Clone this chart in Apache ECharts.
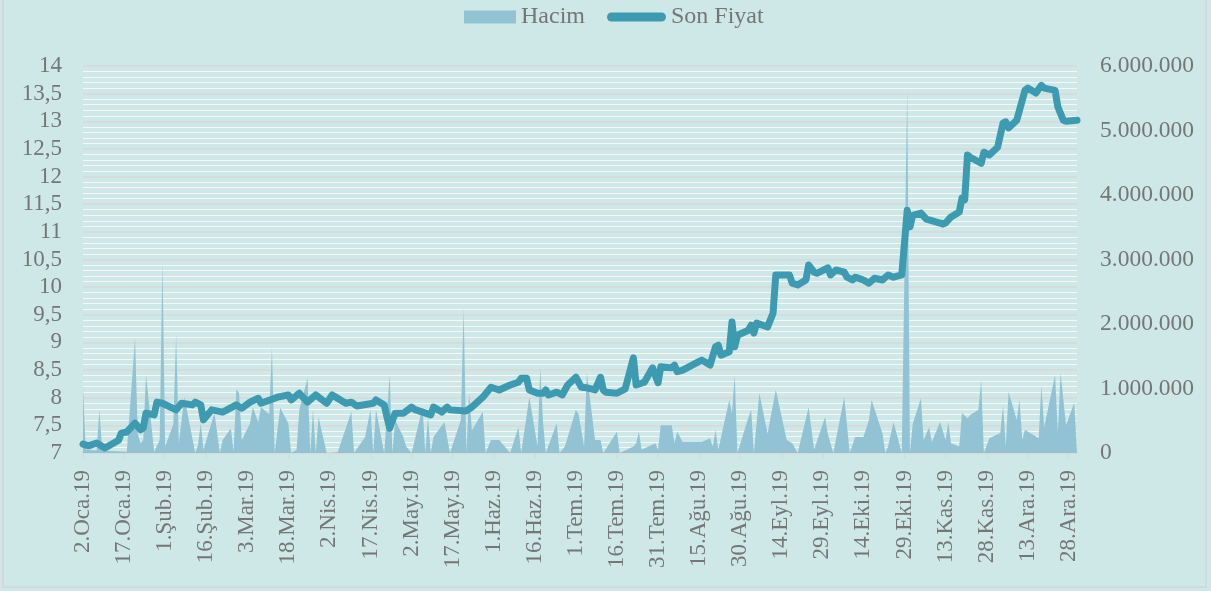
<!DOCTYPE html>
<html><head><meta charset="utf-8">
<script src="https://cdn.jsdelivr.net/npm/echarts@6/dist/echarts.min.js"></script>
<style>
html,body{margin:0;padding:0;background:#cde8e6;}
#frame{position:absolute;left:2px;top:-3px;width:1205px;height:591px;border:2px solid #d6d9d9;box-sizing:border-box;}
#c{position:absolute;left:0;top:0;width:1211px;height:591px;}
</style></head>
<body><div id="frame"></div><div id="c"></div>
<script>
// Turkish month abbreviations used in tick labels
const months = ['Oca','Şub','Mar','Nis','May','Haz','Tem','Ağu','Eyl','Eki','Kas','Ara'];

// Son Fiyat (closing price) – trading-day readings
const priceDates = ['01-02','01-04','01-07','01-10','01-15','01-16','01-18','01-21','01-23','01-24','01-25','01-28','01-29','01-31',
'02-05','02-07','02-11','02-12','02-14','02-15','02-18','02-22','02-27','03-01','03-04','03-07','03-08','03-14','03-18','03-19',
'03-22','03-25','03-28','04-01','04-03','04-08','04-10','04-12','04-18','04-19','04-22','04-23','04-24','04-26','04-29',
'05-02','05-03','05-06','05-09','05-10','05-13','05-15','05-16','05-22','05-24','05-28','05-31','06-03','06-07','06-10',
'06-11','06-13','06-14','06-17','06-19','06-20','06-21','06-24','06-26','06-28','07-01','07-02','07-03','07-05','07-08',
'07-10','07-11','07-12','07-16','07-19','07-22','07-23','07-26','07-29','07-31','08-01','08-05','08-06','08-07','08-09',
'08-14','08-16','08-19','08-21','08-22','08-23','08-26','08-27','08-28','08-29','09-02','09-03','09-04','09-05','09-09',
'09-11','09-12','09-16','09-17','09-18','09-20','09-23','09-24','09-26','09-27','10-01','10-02','10-04','10-07','10-08',
'10-10','10-11','10-14','10-16','10-18','10-21','10-23','10-25','10-28','10-30','10-31','11-01','11-04','11-06','11-11',
'11-12','11-13','11-15','11-18','11-19','11-20','11-21','11-22','11-26','11-27','11-29','12-02','12-04','12-05','12-06',
'12-09','12-10','12-12','12-13','12-16','12-18','12-19','12-23','12-24','12-26','12-27','12-31'];
const price = [7.16,7.13,7.18,7.09,7.23,7.36,7.38,7.54,7.42,7.45,7.72,7.69,7.92,7.90,
7.78,7.90,7.87,7.92,7.87,7.60,7.78,7.74,7.87,7.81,7.92,7.99,7.90,8.01,8.05,7.96,
8.08,7.92,8.05,7.90,8.05,7.90,7.92,7.85,7.90,7.96,7.87,7.65,7.45,7.72,7.72,
7.83,7.79,7.74,7.69,7.83,7.74,7.83,7.78,7.76,7.83,8.01,8.19,8.14,8.23,8.28,
8.35,8.35,8.14,8.08,8.08,8.14,8.05,8.10,8.05,8.23,8.37,8.28,8.19,8.18,8.14,
8.37,8.14,8.10,8.08,8.16,8.72,8.23,8.28,8.54,8.27,8.56,8.54,8.59,8.47,8.50,
8.63,8.68,8.59,8.92,8.95,8.77,8.83,9.37,8.92,9.13,9.22,9.31,9.17,9.35,9.28,
9.53,10.22,10.22,10.22,10.07,10.04,10.13,10.40,10.27,10.25,10.35,10.22,10.31,10.27,10.18,
10.13,10.18,10.13,10.07,10.16,10.13,10.22,10.18,10.22,11.39,11.09,11.30,11.34,11.23,11.16,
11.14,11.16,11.27,11.36,11.61,11.58,12.39,12.35,12.24,12.44,12.39,12.53,12.97,12.99,12.88,
13.02,13.20,13.56,13.60,13.51,13.65,13.60,13.56,13.26,13.02,13.00,13.02];

// Hacim (volume, in millions) – trading-day readings
const volumeDates = ['01-02','01-03','01-07','01-08','01-09','01-18','01-21','01-22','01-23','01-24','01-25','01-28','01-30','01-31',
'02-01','02-04','02-05','02-06','02-08','02-12','02-13','02-14','02-15','02-19','02-21','02-22','02-25','02-26','02-27','02-28',
'03-01','03-04','03-05','03-07','03-08','03-11','03-12','03-13','03-15','03-18','03-19','03-21','03-22','03-25','03-26',
'03-27','03-28','03-29','04-01','04-05','04-10','04-11','04-15','04-17','04-18','04-19','04-22','04-24','04-25','04-26',
'04-29','04-30','05-02','05-06','05-07','05-08','05-09','05-10','05-14','05-16','05-20','05-21','05-22','05-23','05-24',
'05-28','05-29','05-31','06-03','06-07','06-10','06-11','06-14','06-17','06-18','06-19','06-20','06-24','06-25','06-27',
'07-01','07-02','07-04','07-05','07-08','07-10','07-11','07-16','07-17','07-22','07-23','07-24','07-25','07-30','07-31',
'08-01','08-05','08-06','08-07','08-09','08-16','08-19','08-20','08-21','08-22','08-26','08-27','08-28','08-29','09-02',
'09-03','09-04','09-06','09-09','09-12','09-16','09-18','09-20','09-24','09-26','09-30','10-01','10-03','10-07','10-09',
'10-11','10-14','10-16','10-17','10-21','10-22','10-23','10-25','10-28','10-30','10-31','11-01','11-04','11-05','11-07',
'11-08','11-11','11-13','11-14','11-15','11-18','11-19','11-21','11-22','11-25','11-26','11-27','11-29','12-03','12-04',
'12-05','12-06','12-09','12-10','12-11','12-12','12-17','12-18','12-19','12-23','12-24','12-25','12-27','12-30','12-31'];
const volume = [1.02,0.05,0.04,0.67,0.04,0.02,1.78,0.30,0.15,0.20,1.21,0.02,0.20,2.96,
0.10,0.45,1.83,0.15,0.87,0.00,0.12,0.46,0.05,0.62,0.00,0.20,0.38,0.02,0.99,0.93,
0.20,0.46,0.71,0.48,0.71,0.60,1.63,0.00,0.70,0.46,0.00,0.05,0.67,1.16,0.00,
0.67,0.00,0.56,0.00,0.01,0.64,0.00,0.25,0.67,0.00,0.67,0.00,1.21,0.00,0.51,
0.25,0.10,0.00,0.71,0.00,0.56,0.00,0.25,0.48,0.00,0.51,2.25,0.00,0.93,0.35,
0.64,0.00,0.20,0.20,0.00,0.40,0.00,0.87,0.10,1.32,0.48,0.00,0.46,0.00,0.10,
0.67,0.60,0.10,1.24,0.20,0.20,0.00,0.33,0.00,0.10,0.15,0.33,0.05,0.15,0.05,
0.43,0.43,0.15,0.33,0.17,0.17,0.23,0.10,0.36,0.05,0.82,0.62,1.21,0.00,0.55,
0.67,0.00,0.93,0.30,0.98,0.20,0.15,0.00,0.71,0.05,0.56,0.30,0.00,0.87,0.00,
0.25,0.25,0.51,0.82,0.30,0.00,0.10,0.48,0.00,5.66,0.00,0.45,0.85,0.20,0.40,
0.17,0.48,0.20,0.48,0.15,0.10,0.62,0.54,0.59,0.67,1.13,0.00,0.23,0.31,0.74,
0.10,0.95,0.51,0.82,0.20,0.36,0.23,1.05,0.40,1.21,0.31,1.24,0.43,0.78,0.00];

// calendar-day categories, 2 Jan – 31 Dec 2019
const categories = [];
const labelText = {};
for (let i = 0; i < 364; i++) {
  const d = new Date(2019, 0, 2 + i);
  const key = String(d.getMonth()+1).padStart(2,'0') + '-' + String(d.getDate()).padStart(2,'0');
  categories.push(key);
  labelText[key] = d.getDate() + '.' + months[d.getMonth()] + '.19';
}
function fill(dates, vals, scale) {
  const m = {}; dates.forEach((k, i) => m[k] = vals[i] * scale);
  return categories.map(k => (k in m ? m[k] : null));
}
const priceSeries = fill(priceDates, price, 1);
const volumeSeries = fill(volumeDates, volume, 1e6);

const FONT = 'Liberation Serif';
const TXT = '#767676';
const AREA = '#92c3d4';
const LINE = '#3c9bb0';
const chart = echarts.init(document.getElementById('c'));
chart.setOption({
  backgroundColor: 'transparent',
  animation: false,
  legend: {
    top: 5, left: 457, padding: 0, itemWidth: 59, itemHeight: 13, itemGap: 22,
    textStyle: { fontFamily: FONT, fontSize: 24, color: TXT },
    data: [
      { name: 'Hacim', icon: 'path://M0,0M59,13M7,0L59,0L59,13L7,13Z', itemStyle: { color: AREA } },
      { name: 'Son Fiyat', icon: 'path://M0,0M59,13M4.5,2L54.5,2A4.5,4.5,0,0,1,54.5,11L4.5,11A4.5,4.5,0,0,1,4.5,2Z', itemStyle: { color: LINE } }
    ]
  },
  grid: { left: 83, right: 134, top: 66, bottom: 138 },
  xAxis: {
    type: 'category', data: categories, boundaryGap: false,
    axisLine: { lineStyle: { color: '#d9d9d9', width: 1.5 } },
    axisTick: { show: true, interval: 14, length: 5, lineStyle: { color: '#d9d9d9', width: 1.5 } },
    axisLabel: { interval: 14, rotate: 90, margin: 17, fontFamily: FONT, fontSize: 23, color: TXT,
      formatter: v => labelText[v] }
  },
  yAxis: [{
    type: 'value', min: 7, max: 14, interval: 0.5,
    axisLine: { show: false }, axisTick: { show: false },
    axisLabel: { margin: 21, fontFamily: FONT, fontSize: 23, color: TXT,
      formatter: v => String(v).replace('.', ',') },
    splitLine: { lineStyle: { color: '#d9d9d9', width: 1.5 } },
    minorTick: { show: false, splitNumber: 5 },
    minorSplitLine: { show: true, lineStyle: { color: '#f7f7f7', width: 1.2 } }
  }, {
    type: 'value', min: 0, max: 6000000, interval: 1000000,
    axisLine: { show: false }, axisTick: { show: false }, splitLine: { show: false },
    axisLabel: { margin: 23, fontFamily: FONT, fontSize: 23.5, color: TXT,
      formatter: v => String(v).replace(/\B(?=(\d{3})+(?!\d))/g, '.') }
  }],
  series: [{
    name: 'Hacim', type: 'line', yAxisIndex: 1, data: volumeSeries, connectNulls: true,
    symbol: 'none', color: AREA,
    lineStyle: { width: 0 }, areaStyle: { color: AREA, opacity: 1 }
  }, {
    name: 'Son Fiyat', type: 'line', yAxisIndex: 0, data: priceSeries, connectNulls: true,
    symbol: 'none', color: LINE,
    lineStyle: { width: 7, color: LINE, cap: 'round', join: 'round' }
  }]
});
</script></body></html>
